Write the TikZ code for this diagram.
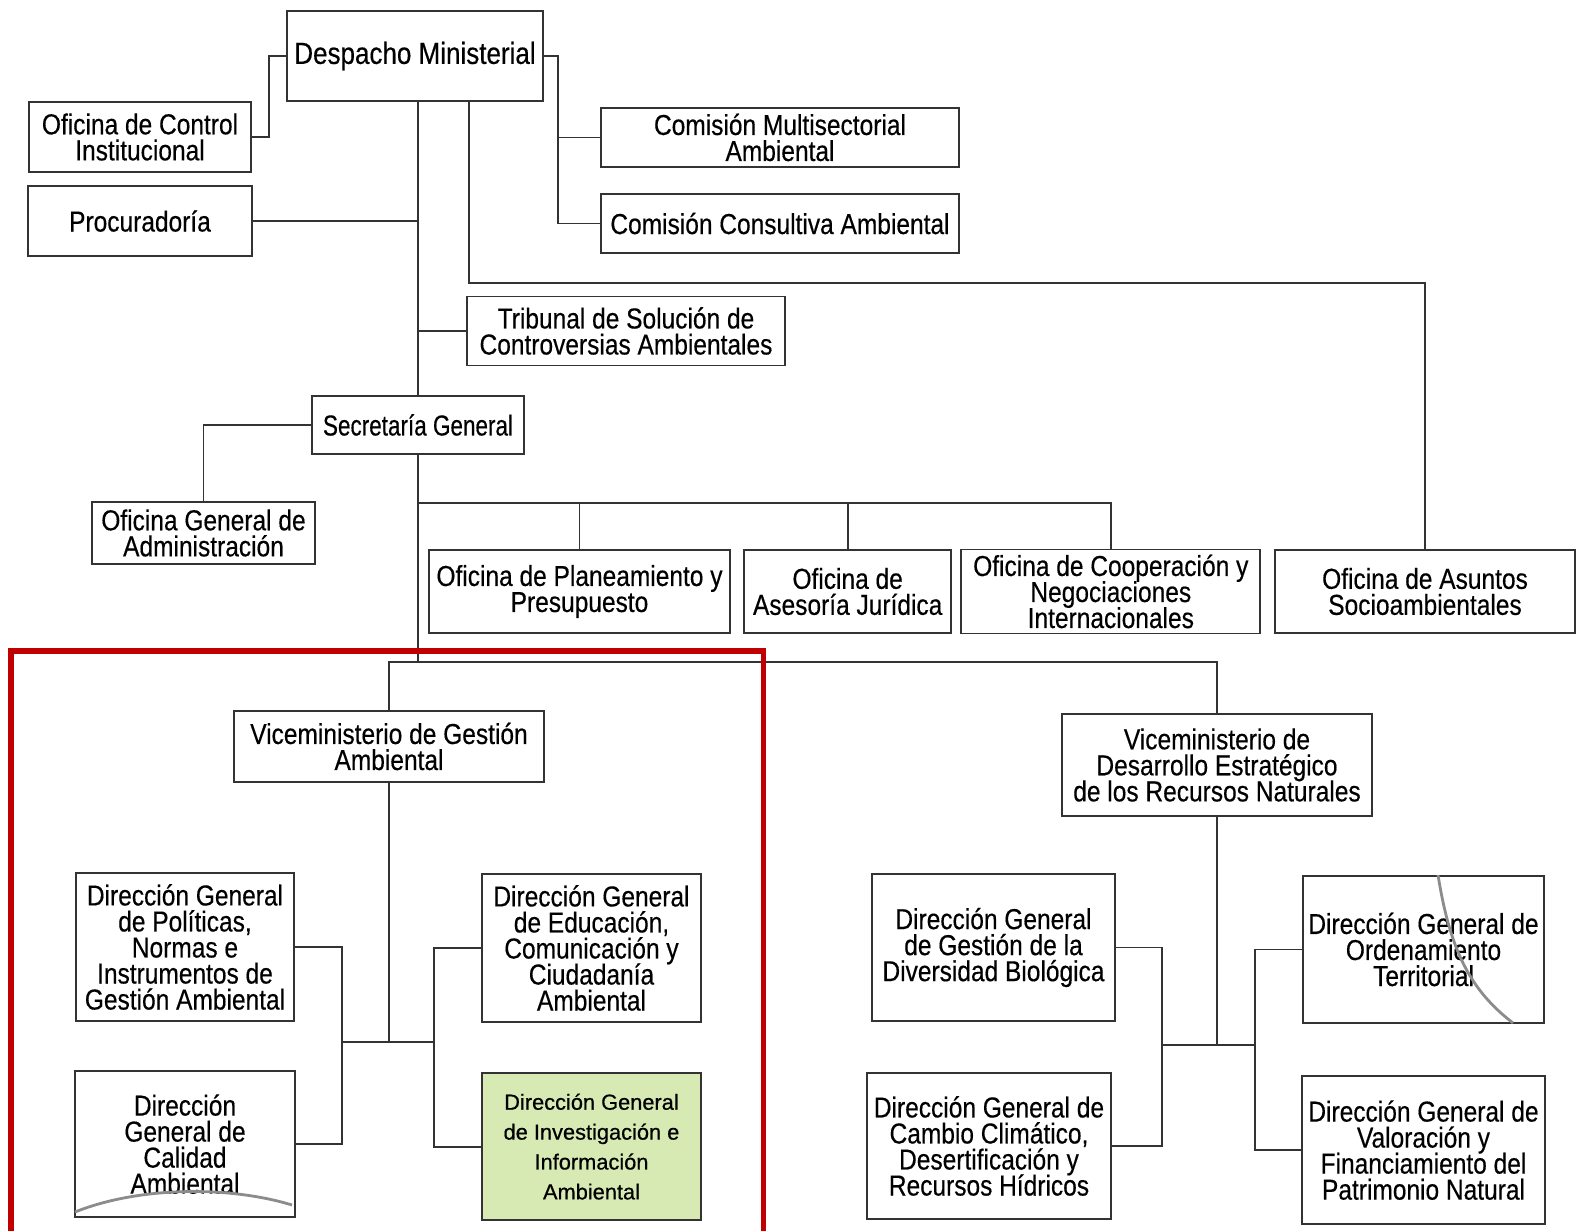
\documentclass[tikz,border=0pt]{standalone}
\usepackage{fontspec}
\setmainfont{Liberation Sans}[FakeStretch=0.85, FakeBold=0.4]
\newfontfamily\plainsans{Liberation Sans}[FakeBold=0.6]
\usetikzlibrary{positioning}
\definecolor{hlgreen}{HTML}{D7EAB3}
\definecolor{boxred}{HTML}{C00000}
\newcommand\orgfont{\fontsize{8.2}{7.4}\selectfont\lineskiplimit-5pt\relax}
\newcommand\focusfont{\plainsans\fontsize{6.2}{8.5}\selectfont\lineskiplimit-5pt\relax}

\begin{document}
\begin{tikzpicture}[x=0.01cm, y=-0.01cm, on grid,
org/.style={draw=black!80, line width=0.55pt, align=center, inner sep=0pt, font=\orgfont},
sz/.style 2 args={minimum width=#1cm, minimum height=#2cm},
dgfocus/.style={org, fill=hlgreen, font=\focusfont},
conn/.style={draw=black!80, line width=0.5pt},
scratch/.style={draw=black!45, line width=0.8pt}]
\useasboundingbox (0,0) rectangle (1576,1231);

% top level
\node[org, sz={2.56}{0.90}, font=\fontsize{8.7}{8}\selectfont] (desp) at (415,56) {Despacho Ministerial};
\node[org, sz={2.22}{0.70}] (ctrl) at (140,137) {Oficina de Control\\Institucional};
\node[org, sz={2.23}{0.70}] (proc) [below = 0.84cm of ctrl] {Procuradoría};
\node[org, sz={3.58}{0.59}] (cmult) at (780,137.5) {Comisión Multisectorial\\Ambiental};
\node[org, sz={3.58}{0.59}] (ccons) [below = 0.86cm of cmult] {Comisión Consultiva Ambiental};
\node[org, sz={3.17}{0.69}] (trib) at (626,331) {Tribunal de Solución de\\Controversias Ambientales};
\node[org, sz={2.12}{0.58}, font=\orgfont\addfontfeature{FakeStretch=0.78}] (secg) at (418,425) {Secretaría General};
\node[org, sz={2.23}{0.62}] (adm) at (203.5,533) {Oficina General de\\Administración};

% oficinas
\node[org, sz={3.01}{0.83}] (plan) at (579.5,591.5) {Oficina de Planeamiento y\\Presupuesto};
\node[org, sz={2.07}{0.83}] (ases) [right = 2.68cm of plan] {Oficina de\\Asesoría Jurídica};
\node[org, sz={2.99}{0.84}] (coop) [right = 2.63cm of ases] {Oficina de Cooperación y\\Negociaciones\\Internacionales};
\node[org, sz={3.00}{0.83}] (asun) [right = 3.14cm of coop] {Oficina de Asuntos\\Socioambientales};

% viceministerios
\node[org, sz={3.10}{0.71}] (vga) at (389,746.5) {Viceministerio de Gestión\\Ambiental};
\node[org, sz={3.10}{1.02}] (vdr) at (1217,765) {Viceministerio de\\Desarrollo Estratégico\\de los Recursos Naturales};

% direcciones generales
\node[org, sz={2.18}{1.48}] (dgpol) at (185,947) {Dirección General\\de Políticas,\\Normas e\\Instrumentos de\\Gestión Ambiental};
\node[org, sz={2.19}{1.46}] (dgcal) [below = 1.97cm of dgpol] {Dirección\\General de\\Calidad\\Ambiental};
\node[org, sz={2.19}{1.48}] (dgedu) at (591.5,948) {Dirección General\\de Educación,\\Comunicación y\\Ciudadanía\\Ambiental};
\node[dgfocus, sz={2.19}{1.47}] (dginv) [below = 1.985cm of dgedu] {Dirección General\\de Investigación e\\Información\\Ambiental};
\node[org, sz={2.43}{1.47}] (dgdiv) at (993.5,947.5) {Dirección General\\de Gestión de la\\Diversidad Biológica};
\node[org, sz={2.44}{1.46}] (dgcc) at (989,1146) {Dirección General de\\Cambio Climático,\\Desertificación y\\Recursos Hídricos};
\node[org, sz={2.41}{1.47}] (dgord) at (1423.5,949.5) {Dirección General de\\Ordenamiento\\Territorial};
\node[org, sz={2.42}{1.48}] (dgval) [below = 2.005cm of dgord] {Dirección General de\\Valoración y\\Financiamiento del\\Patrimonio Natural};

% junctions
\coordinate (sbus) at (469,283);
\coordinate (obus) at (secg.south |- 0,503);
\coordinate (lj) at (342,1042);
\coordinate (rj) at (434,1042);
\coordinate (lk) at (1162,1045);
\coordinate (rk) at (1255,1045);

% connectors
\draw[conn] (desp.west) -- ++(-17,0) |- (ctrl.east);
\draw[conn] (desp.east) -- ++(14,0) coordinate (dr) |- (cmult.west) (dr) |- (ccons.west);
\draw[conn] (secg.north |- desp.south) -- (secg.north);
\draw[conn] (proc.east) -- (proc.east -| secg.north);
\draw[conn] (trib.west) -- (trib.west -| secg.north);
\draw[conn] (sbus |- desp.south) -- (sbus) -| (asun.north);
\draw[conn] (secg.west) -| (adm.north);
\draw[conn] (secg.south) -- (secg.south |- 0,662);
\draw[conn] (obus) -| (coop.north);
\draw[conn] (plan.north) -- (plan.north |- obus);
\draw[conn] (ases.north) -- (ases.north |- obus);
\draw[conn] (vga.north) -- (vga.north |- 0,662) -| (vdr.north);

\draw[conn] (vga.south) -- (vga.south |- lj);
\draw[conn] (dgpol.east) -| (lj) |- (dgcal.east);
\draw[conn] (lj) -- (rj);
\draw[conn] (dgedu.west) -| (rj) |- (dginv.west);

\draw[conn] (vdr.south) -- (vdr.south |- lk);
\draw[conn] (dgdiv.east) -| (lk) |- (dgcc.east);
\draw[conn] (lk) -- (rk);
\draw[conn] (dgord.west) -| (rk) |- (dgval.west);

% marks on the scan
\draw[scratch] (75,1212) .. controls (140,1186) and (230,1186) .. (292,1205);
\draw[scratch] (1438,875) .. controls (1450,950) and (1470,990) .. (1513,1023);

% frame
\draw[boxred, line width=0.05cm] (11,1245) -- (11,651) -- (763,651) -- (763,1245);
\end{tikzpicture}
\end{document}
